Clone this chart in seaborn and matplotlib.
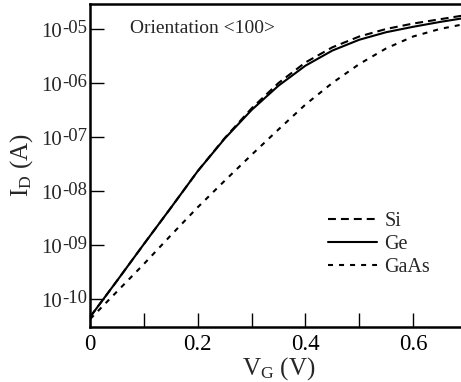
import numpy as np
import pandas as pd
import matplotlib
matplotlib.use("Agg")
import matplotlib.pyplot as plt
import seaborn as sns

# Data (log10 of drain current)
vg = [0.0, 0.05, 0.10, 0.15, 0.20, 0.25, 0.30, 0.35, 0.40, 0.45, 0.50, 0.55, 0.60, 0.65, 0.70]
log_si = [-10.33, -9.66, -8.98, -8.31, -7.63, -7.02, -6.47, -6.00, -5.62, -5.34, -5.14, -5.00, -4.90, -4.82, -4.74]
log_ge = [-10.33, -9.66, -8.98, -8.31, -7.63, -7.03, -6.50, -6.05, -5.68, -5.40, -5.20, -5.06, -4.96, -4.87, -4.79]
log_gaas = [-10.37, -9.86, -9.35, -8.82, -8.30, -7.81, -7.33, -6.86, -6.40, -6.00, -5.65, -5.36, -5.14, -5.00, -4.90]
materials = ["Si", "Ge", "GaAs"]
xticks = [0, 0.2, 0.4, 0.6]
xtick_labels = ["0", "0.2", "0.4", "0.6"]
yticks_exp = [-10, -9, -8, -7, -6, -5]
ytick_base = "10"
ytick_labels = ["-10", "-09", "-08", "-07", "-06", "-05"]
annotation = "Orientation <100>"

df = pd.concat([
    pd.DataFrame({"VG": vg, "ID": 10.0 ** np.array(vals), "material": m})
    for m, vals in zip(materials, [log_si, log_ge, log_gaas])
], ignore_index=True)

sns.set_theme(style="ticks")
plt.rcParams["font.family"] = ["Liberation Serif", "DejaVu Serif"]
plt.rcParams["mathtext.fontset"] = "custom"
plt.rcParams["mathtext.rm"] = "Liberation Serif"
plt.rcParams["mathtext.it"] = "Liberation Serif:italic"

fig = plt.figure(figsize=(4.61, 3.82), dpi=100)
ax = fig.add_axes([0.1957, 0.1448, 0.8169, 0.8448])

dashes = {"Si": (3.8, 2.4), "Ge": "", "GaAs": (2.4, 2.9)}
sns.lineplot(data=df, x="VG", y="ID", style="material", dashes=dashes,
             color="black", linewidth=1.5, ax=ax, legend=True)

ax.set_yscale("log")
ax.set_xlim(0, 0.7)
ax.set_ylim(10 ** -10.513, 10 ** -4.537)

ax.set_xticks(xticks)
ax.set_xticklabels(xtick_labels)
ax.set_xticks([0.1, 0.3, 0.5], minor=True)
ax.set_yticks([10.0 ** e for e in yticks_exp])
ax.set_yticklabels([])
ax.yaxis.set_minor_locator(matplotlib.ticker.NullLocator())

ax.tick_params(axis="both", which="both", direction="in", length=10, width=1.0,
               colors="black")
ax.tick_params(axis="x", labelsize=16.5, pad=5.5)
for s in ax.spines.values():
    s.set_linewidth(1.8)
    s.set_color("black")

# y tick labels: "10" with a large raised exponent, as in the reference
fig.canvas.draw()
renderer = fig.canvas.get_renderer()
for e, lab in zip(yticks_exp, ytick_labels):
    t_exp = ax.annotate(lab, xy=(0, 10.0 ** e), xycoords=("axes fraction", "data"),
                        xytext=(-3, -4.3), textcoords="offset pixels",
                        ha="right", va="baseline", fontsize=13.5, annotation_clip=False)
    w = t_exp.get_window_extent(renderer).width
    ax.annotate(ytick_base, xy=(0, 10.0 ** e), xycoords=("axes fraction", "data"),
                xytext=(-3 - w, -8), textcoords="offset pixels",
                ha="right", va="baseline", fontsize=15, annotation_clip=False)

ax.set_xlabel(r"$\mathregular{V_G}$ (V)", fontsize=18, labelpad=0)
ax.set_ylabel(r"$\mathregular{I_D}$ (A)", fontsize=18)
ax.yaxis.set_label_coords(-0.146, 0.5)

ax.text(0.106, 0.925, annotation, transform=ax.transAxes, fontsize=14,
        ha="left", va="center")

handles, labels = ax.get_legend_handles_labels()
leg = ax.legend(handles, labels, frameon=False, fontsize=14.5,
                loc="center left", bbox_to_anchor=(0.583, 0.255),
                handlelength=2.45, handletextpad=0.35, labelspacing=0.2)

fig.savefig("out.png", dpi=100)
